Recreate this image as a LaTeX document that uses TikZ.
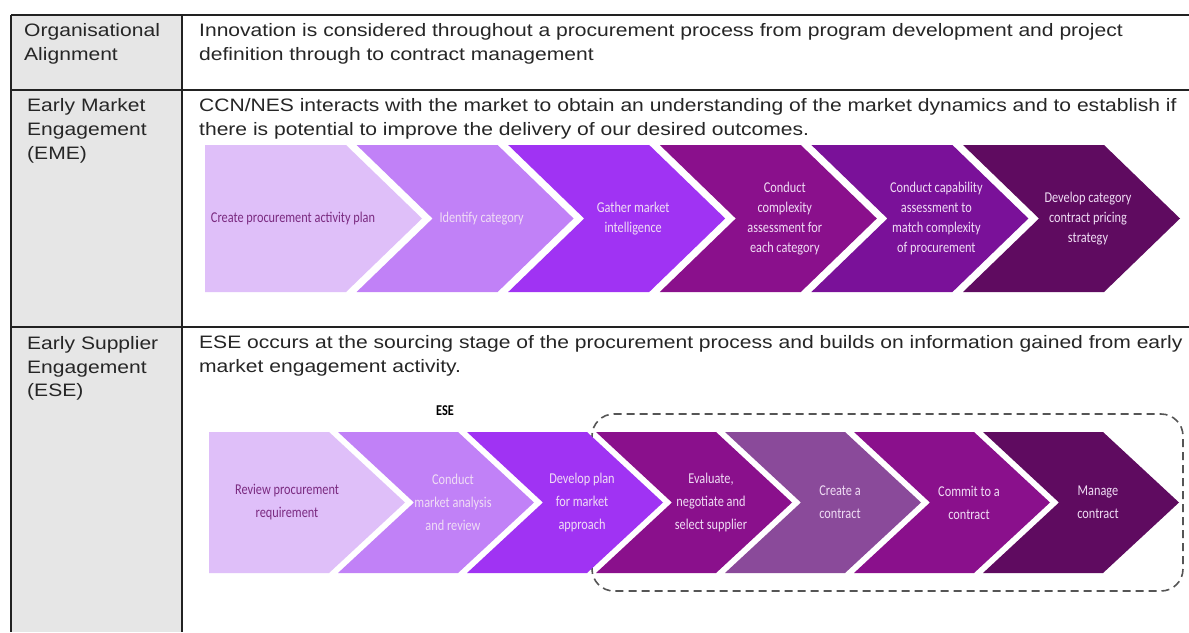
\documentclass[tikz,border=0pt]{standalone}
\usepackage{fontspec}
\setmainfont[FakeStretch=1.17]{Liberation Sans}
\newfontfamily\chevfont[FakeStretch=0.82]{Carlito}
\usetikzlibrary{calc}
\definecolor{leftgray}{HTML}{E6E6E6}
\definecolor{tblline}{HTML}{222222}
\definecolor{pA}{HTML}{DFBFF9}
\definecolor{pB}{HTML}{C181F7}
\definecolor{pC}{HTML}{A033F3}
\definecolor{pD}{HTML}{8A108C}
\definecolor{pE}{HTML}{7A1199}
\definecolor{pF}{HTML}{5F0B60}
\definecolor{pG}{HTML}{8A4A9A}
\definecolor{txtdark}{HTML}{7A2A80}
\definecolor{txtlight}{HTML}{F0DDF5}
\definecolor{dashgray}{HTML}{555555}
\newcommand\chevron[7]{%
  \fill[#1] (#2,#3) -- ({#2+#5},#3) -- ({#2+#5+#6},{(#3+#4)/2}) -- ({#2+#5},#4) -- (#2,#4) -- ({#2+#7*#6},{(#3+#4)/2}) -- cycle;}
\tikzset{
  tbl/.style={draw=tblline, line width=1.4pt},
  celltext/.style={anchor=base west, inner sep=0pt, font=\fontsize{18}{24}\selectfont, text=black!85},
  chevone/.style={align=center, inner sep=0pt, font=\chevfont\fontsize{15}{20}\selectfont, text=txtlight},
  chevthree/.style={align=center, inner sep=0pt, font=\chevfont\fontsize{15}{23}\selectfont, text=txtlight},
  dashbox/.style={draw=dashgray, line width=1.6pt, dash pattern=on 8pt off 5pt, rounded corners=22pt},
}
\begin{document}
\begin{tikzpicture}[x=1pt,y=-1pt]
\useasboundingbox (0,0) rectangle (1189,632);
\fill[white] (0,0) rectangle (1189,632);
\fill[leftgray] (11,15) rectangle (182,632);
% table lines
\draw[tbl] (11,15) -- (1189,15);
\draw[tbl] (11,90) -- (1189,90);
\draw[tbl] (11,327) -- (1189,327);
\draw[tbl] (11,15) -- (11,632);
\draw[tbl] (182,15) -- (182,632);
% row 1
\node[celltext] (l1a) at (24,36) {Organisational};
\node[celltext] (l1b) at (24,60) {Alignment};
\node[celltext] (r1a) at (199,36) {Innovation is considered throughout a procurement process from program development and project};
\node[celltext] (r1b) at (199,60) {definition through to contract management};
% row 2
\node[celltext] (l2a) at (27,111) {Early Market};
\node[celltext] (l2b) at (27,135) {Engagement};
\node[celltext] (l2c) at (27,159) {(EME)};
\node[celltext] (r2a) at (199,111) {CCN/NES interacts with the market to obtain an understanding of the market dynamics and to establish if};
\node[celltext] (r2b) at (199,135) {there is potential to improve the delivery of our desired outcomes.};
% row 3
\node[celltext] (l3a) at (27,349.5) {Early Supplier};
\node[celltext] (l3b) at (27,373) {Engagement};
\node[celltext] (l3c) at (27,396.5) {(ESE)};
\node[celltext] (r3a) at (199,348) {ESE occurs at the sourcing stage of the procurement process and builds on information gained from early};
\node[celltext] (r3b) at (199,372) {market engagement activity.};
% EME chevrons
\chevron{pA}{205}{145}{292}{141}{76}{0}
\chevron{pB}{356.6}{145}{292}{141}{76}{1}
\chevron{pC}{508.2}{145}{292}{141}{76}{1}
\chevron{pD}{659.8}{145}{292}{141}{76}{1}
\chevron{pE}{811.4}{145}{292}{141}{76}{1}
\chevron{pF}{963}{145}{292}{141}{76}{1}
\node[chevone, text=txtdark] (m1) at (293,218.5) {Create procurement activity plan};
\node[chevone] (m2) at (481.6,218.5) {Identify category};
\node[chevone] (m3) at (633.2,218.5) {Gather market\\intelligence};
\node[chevone] (m4) at (784.8,218.5) {Conduct\\complexity\\assessment for\\each category};
\node[chevone] (m5) at (936.4,218.5) {Conduct capability\\assessment to\\match complexity\\of procurement};
\node[chevone] (m6) at (1088,218.5) {Develop category\\contract pricing\\strategy};
% ESE dashed group
\draw[dashbox] (592,414) rectangle (1183,591);
\node[font=\chevfont\bfseries\fontsize{15}{17}\selectfont, inner sep=0pt] (eselabel) at (445,411) {ESE};
% ESE chevrons
\chevron{pA}{209}{432}{573}{120}{76}{0}
\chevron{pB}{338}{432}{573}{120}{76}{1}
\chevron{pC}{467}{432}{573}{120}{76}{1}
\chevron{pD}{596}{432}{573}{120}{76}{1}
\chevron{pG}{725}{432}{573}{120}{76}{1}
\chevron{pD}{854}{432}{573}{120}{76}{1}
\chevron{pF}{983}{432}{573}{120}{76}{1}
\node[chevthree, text=txtdark] (s1) at (287,502.5) {Review procurement\\requirement};
\node[chevthree] (s2) at (453,502.5) {Conduct\\market analysis\\and review};
\node[chevthree] (s3) at (582,502.5) {Develop plan\\for market\\approach};
\node[chevthree] (s4) at (711,502.5) {Evaluate,\\negotiate and\\select supplier};
\node[chevthree] (s5) at (840,502.5) {Create a\\contract};
\node[chevthree] (s6) at (969,502.5) {Commit to a\\contract};
\node[chevthree] (s7) at (1098,502.5) {Manage\\contract};
\end{tikzpicture}
\end{document}
